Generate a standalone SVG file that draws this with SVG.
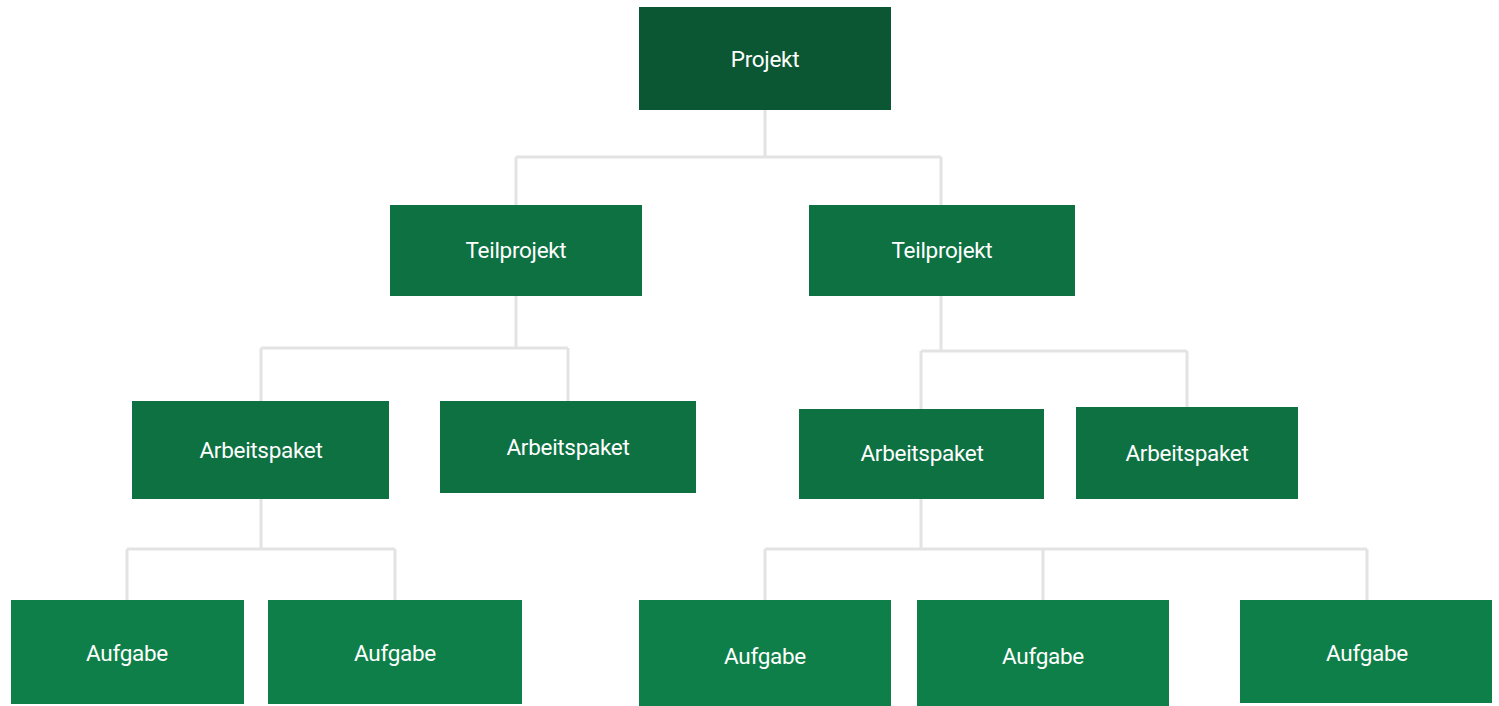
<svg xmlns="http://www.w3.org/2000/svg" width="1499" height="706" viewBox="0 0 1499 706">
<style>
.box{fill:#0e7f48;}
.top{fill:#0b5733;}
.mid{fill:#0d7142;}
.lbl{font-family:Roboto,"Liberation Sans",sans-serif;font-size:22.5px;font-weight:400;letter-spacing:-0.3px;fill:#ffffff;text-anchor:middle;dominant-baseline:central;}
.con{fill:none;stroke:#e3e3e3;stroke-width:3;}
</style>
<rect width="1499" height="706" fill="#ffffff"/>
<g id="connectors">
<path class="con" d="M765 110V157M516 157H941M516 157V205M941 157V205"/>
<path class="con" d="M516 296V348M261 348H568M261 348V401M568 348V401"/>
<path class="con" d="M941 296V351M921 351H1187M921 351V409M1187 351V407"/>
<path class="con" d="M261 499V549M127 549H395M127 549V600M395 549V600"/>
<path class="con" d="M921 499V549M765 549H1367M765 549V600M1043 549V600M1367 549V600"/>
</g>
<g id="projekt"><rect class="top" x="639" y="7" width="252" height="103"/><text class="lbl" x="765" y="59">Projekt</text></g>
<g id="teilprojekt1"><rect class="mid" x="390" y="205" width="252" height="91"/><text class="lbl" x="516" y="250">Teilprojekt</text></g>
<g id="teilprojekt2"><rect class="mid" x="809" y="205" width="266" height="91"/><text class="lbl" x="942" y="250">Teilprojekt</text></g>
<g id="ap1"><rect class="mid" x="132" y="401" width="257" height="98"/><text class="lbl" x="261" y="450">Arbeitspaket</text></g>
<g id="ap2"><rect class="mid" x="440" y="401" width="256" height="92"/><text class="lbl" x="568" y="447">Arbeitspaket</text></g>
<g id="ap3"><rect class="mid" x="799" y="409" width="245" height="90"/><text class="lbl" x="922" y="453">Arbeitspaket</text></g>
<g id="ap4"><rect class="mid" x="1076" y="407" width="222" height="92"/><text class="lbl" x="1187" y="453">Arbeitspaket</text></g>
<g id="aufgabe1"><rect class="box" x="11" y="600" width="233" height="104"/><text class="lbl" x="127" y="653">Aufgabe</text></g>
<g id="aufgabe2"><rect class="box" x="268" y="600" width="254" height="104"/><text class="lbl" x="395" y="653">Aufgabe</text></g>
<g id="aufgabe3"><rect class="box" x="639" y="600" width="252" height="106"/><text class="lbl" x="765" y="656">Aufgabe</text></g>
<g id="aufgabe4"><rect class="box" x="917" y="600" width="252" height="106"/><text class="lbl" x="1043" y="656">Aufgabe</text></g>
<g id="aufgabe5"><rect class="box" x="1240" y="600" width="252" height="103"/><text class="lbl" x="1367" y="653">Aufgabe</text></g>
</svg>
